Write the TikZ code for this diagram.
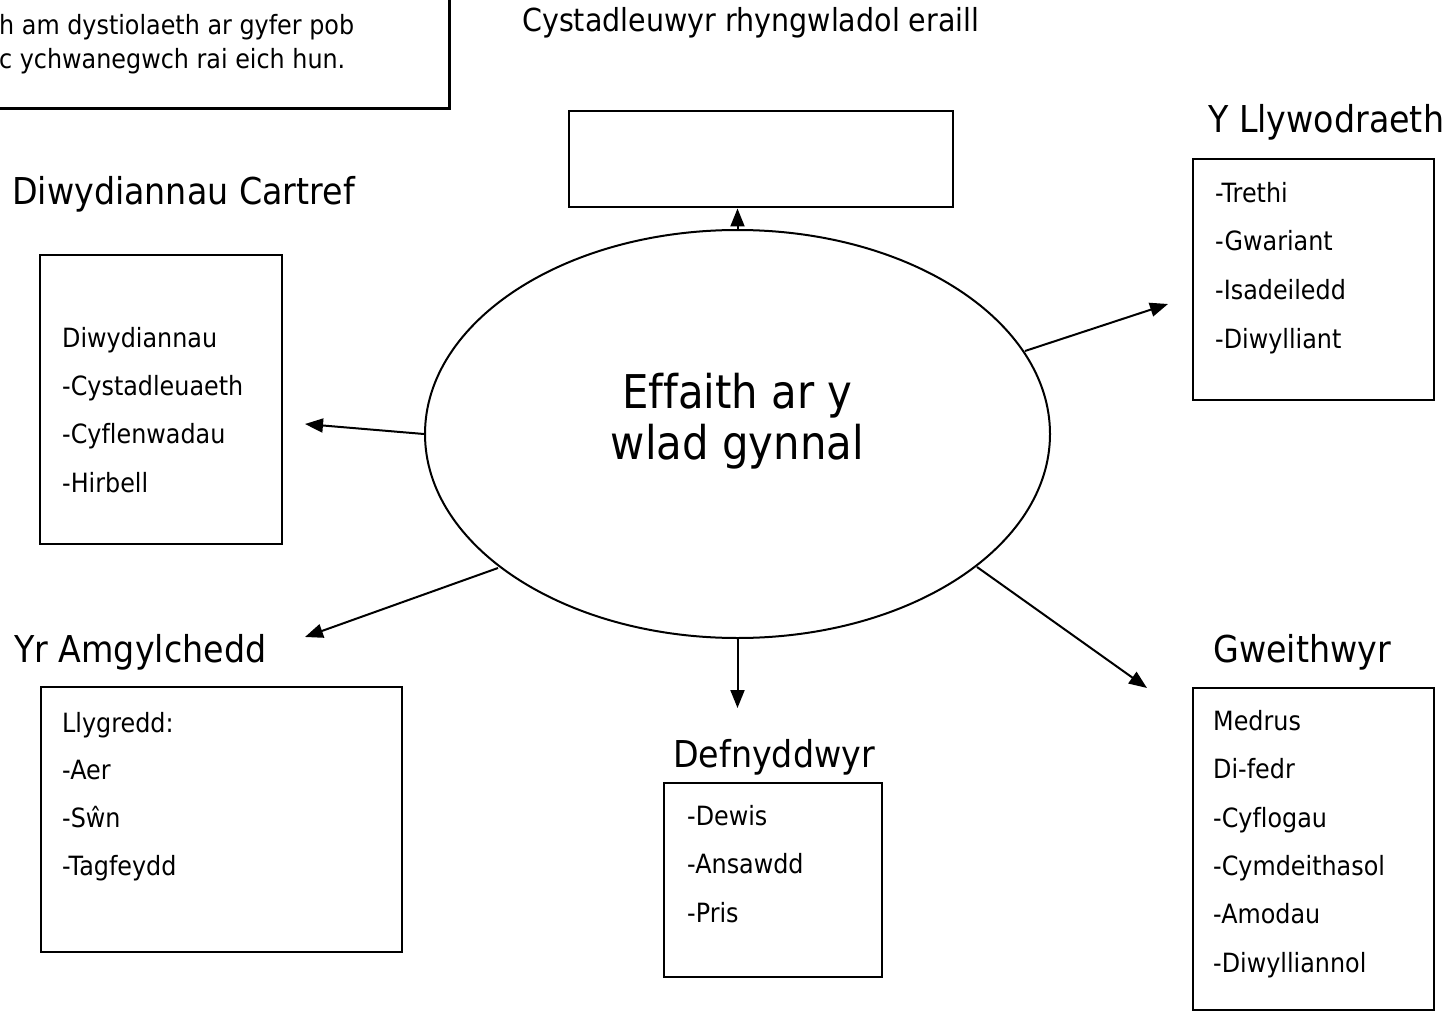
\documentclass[tikz,border=0pt]{standalone}
\usepackage{fontspec}
\setmainfont{DejaVu Sans}[FakeStretch=0.9,Ligatures=NoCommon]
\usetikzlibrary{arrows.meta,shapes.geometric}
\begin{document}
\begin{tikzpicture}[x=1pt,y=-1pt,
  box/.style={draw,line width=2pt},
  itm/.style={anchor=base west,inner sep=0pt,font=\fontsize{26.5}{30}\selectfont},
  ttl/.style={anchor=base west,inner sep=0pt,font=\fontsize{37}{44}\selectfont},
  ctr/.style={anchor=base,inner sep=0pt,font=\fontsize{46.5}{56}\selectfont},
  conn/.style={line width=2pt,-{Triangle[length=18pt,width=14pt]}}]
\clip (0,0) rectangle (1450,1016);
\fill[white] (0,0) rectangle (1450,1016);
% top-left note
\draw[line width=3pt] (-20,-20) rectangle (449,109);
\node[itm] (n1) at (-1,35) {h am dystiolaeth ar gyfer pob};
\node[itm] (n2) at (-1,69) {c ychwanegwch rai eich hun.};
% top
\node[itm,font=\fontsize{31.7}{36}\selectfont] (tt) at (522,32) {Cystadleuwyr rhyngwladol eraill};
\node[box,minimum width=384pt,minimum height=96pt,inner sep=0pt] (topbox) at (761,159.5) {};
% ellipse
\node[draw,ellipse,line width=2pt,minimum width=625pt,minimum height=408pt,inner sep=0pt] (E) at (737.5,434) {};
\node[ctr] (c1) at (737.5,408) {Effaith ar y};
\node[ctr] (c2) at (737.5,459) {wlad gynnal};
% left: Diwydiannau Cartref
\node[ttl] (t1) at (12,205) {Diwydiannau Cartref};
\node[box,minimum width=242pt,minimum height=289pt,inner sep=0pt] (b1) at (161,399.5) {};
\node[itm] at (62,347) {Diwydiannau};
\node[itm] at (62,395) {-Cystadleuaeth};
\node[itm] at (62,443) {-Cyflenwadau};
\node[itm] at (62,492) {-Hirbell};
% right: Y Llywodraeth
\node[ttl] (t2) at (1208,133) {Y Llywodraeth};
\node[box,minimum width=241pt,minimum height=241pt,inner sep=0pt] (b2) at (1313.5,279.5) {};
\node[itm] at (1215,203) {-Trethi};
\node[itm] at (1215,251) {-Gwariant};
\node[itm] at (1215,299) {-Isadeiledd};
\node[itm] at (1215,348) {-Diwylliant};
% Yr Amgylchedd
\node[ttl] (t3) at (14,662) {Yr Amgylchedd};
\node[box,minimum width=361pt,minimum height=265pt,inner sep=0pt] (b3) at (221.5,819.5) {};
\node[itm] at (62,732) {Llygredd:};
\node[itm] at (62,779) {-Aer};
\node[itm] at (62,827) {-Sŵn};
\node[itm] at (62,875) {-Tagfeydd};
% Defnyddwyr
\node[ttl] (t4) at (673,767) {Defnyddwyr};
\node[box,minimum width=218pt,minimum height=194pt,inner sep=0pt] (b4) at (773,880) {};
\node[itm] at (687,825) {-Dewis};
\node[itm] at (687,873) {-Ansawdd};
\node[itm] at (687,922) {-Pris};
% Gweithwyr
\node[ttl] (t5) at (1213,662) {Gweithwyr};
\node[box,minimum width=241pt,minimum height=322pt,inner sep=0pt] (b5) at (1313.5,849) {};
\node[itm] at (1213,730) {Medrus};
\node[itm] at (1213,778) {Di-fedr};
\node[itm] at (1213,827) {-Cyflogau};
\node[itm] at (1213,875) {-Cymdeithasol};
\node[itm] at (1213,923) {-Amodau};
\node[itm] at (1213,972) {-Diwylliannol};
% connector ends on the ellipse
\coordinate (eR) at (1025,351);
\coordinate (eBL) at (498,568);
\coordinate (eBR) at (977,567);
% free ends
\coordinate (aL) at (305,424);
\coordinate (aR) at (1168,304);
\coordinate (aBL) at (305,637);
\coordinate (aB) at (737.5,708);
\coordinate (aBR) at (1147,688);
\draw[conn] (E.north) -- (E.north |- topbox.south);
\draw[conn] (E.west) -- (aL);
\draw[conn] (eR) -- (aR);
\draw[conn] (eBL) -- (aBL);
\draw[conn] (E.south) -- (aB);
\draw[conn] (eBR) -- (aBR);
\end{tikzpicture}
\end{document}
